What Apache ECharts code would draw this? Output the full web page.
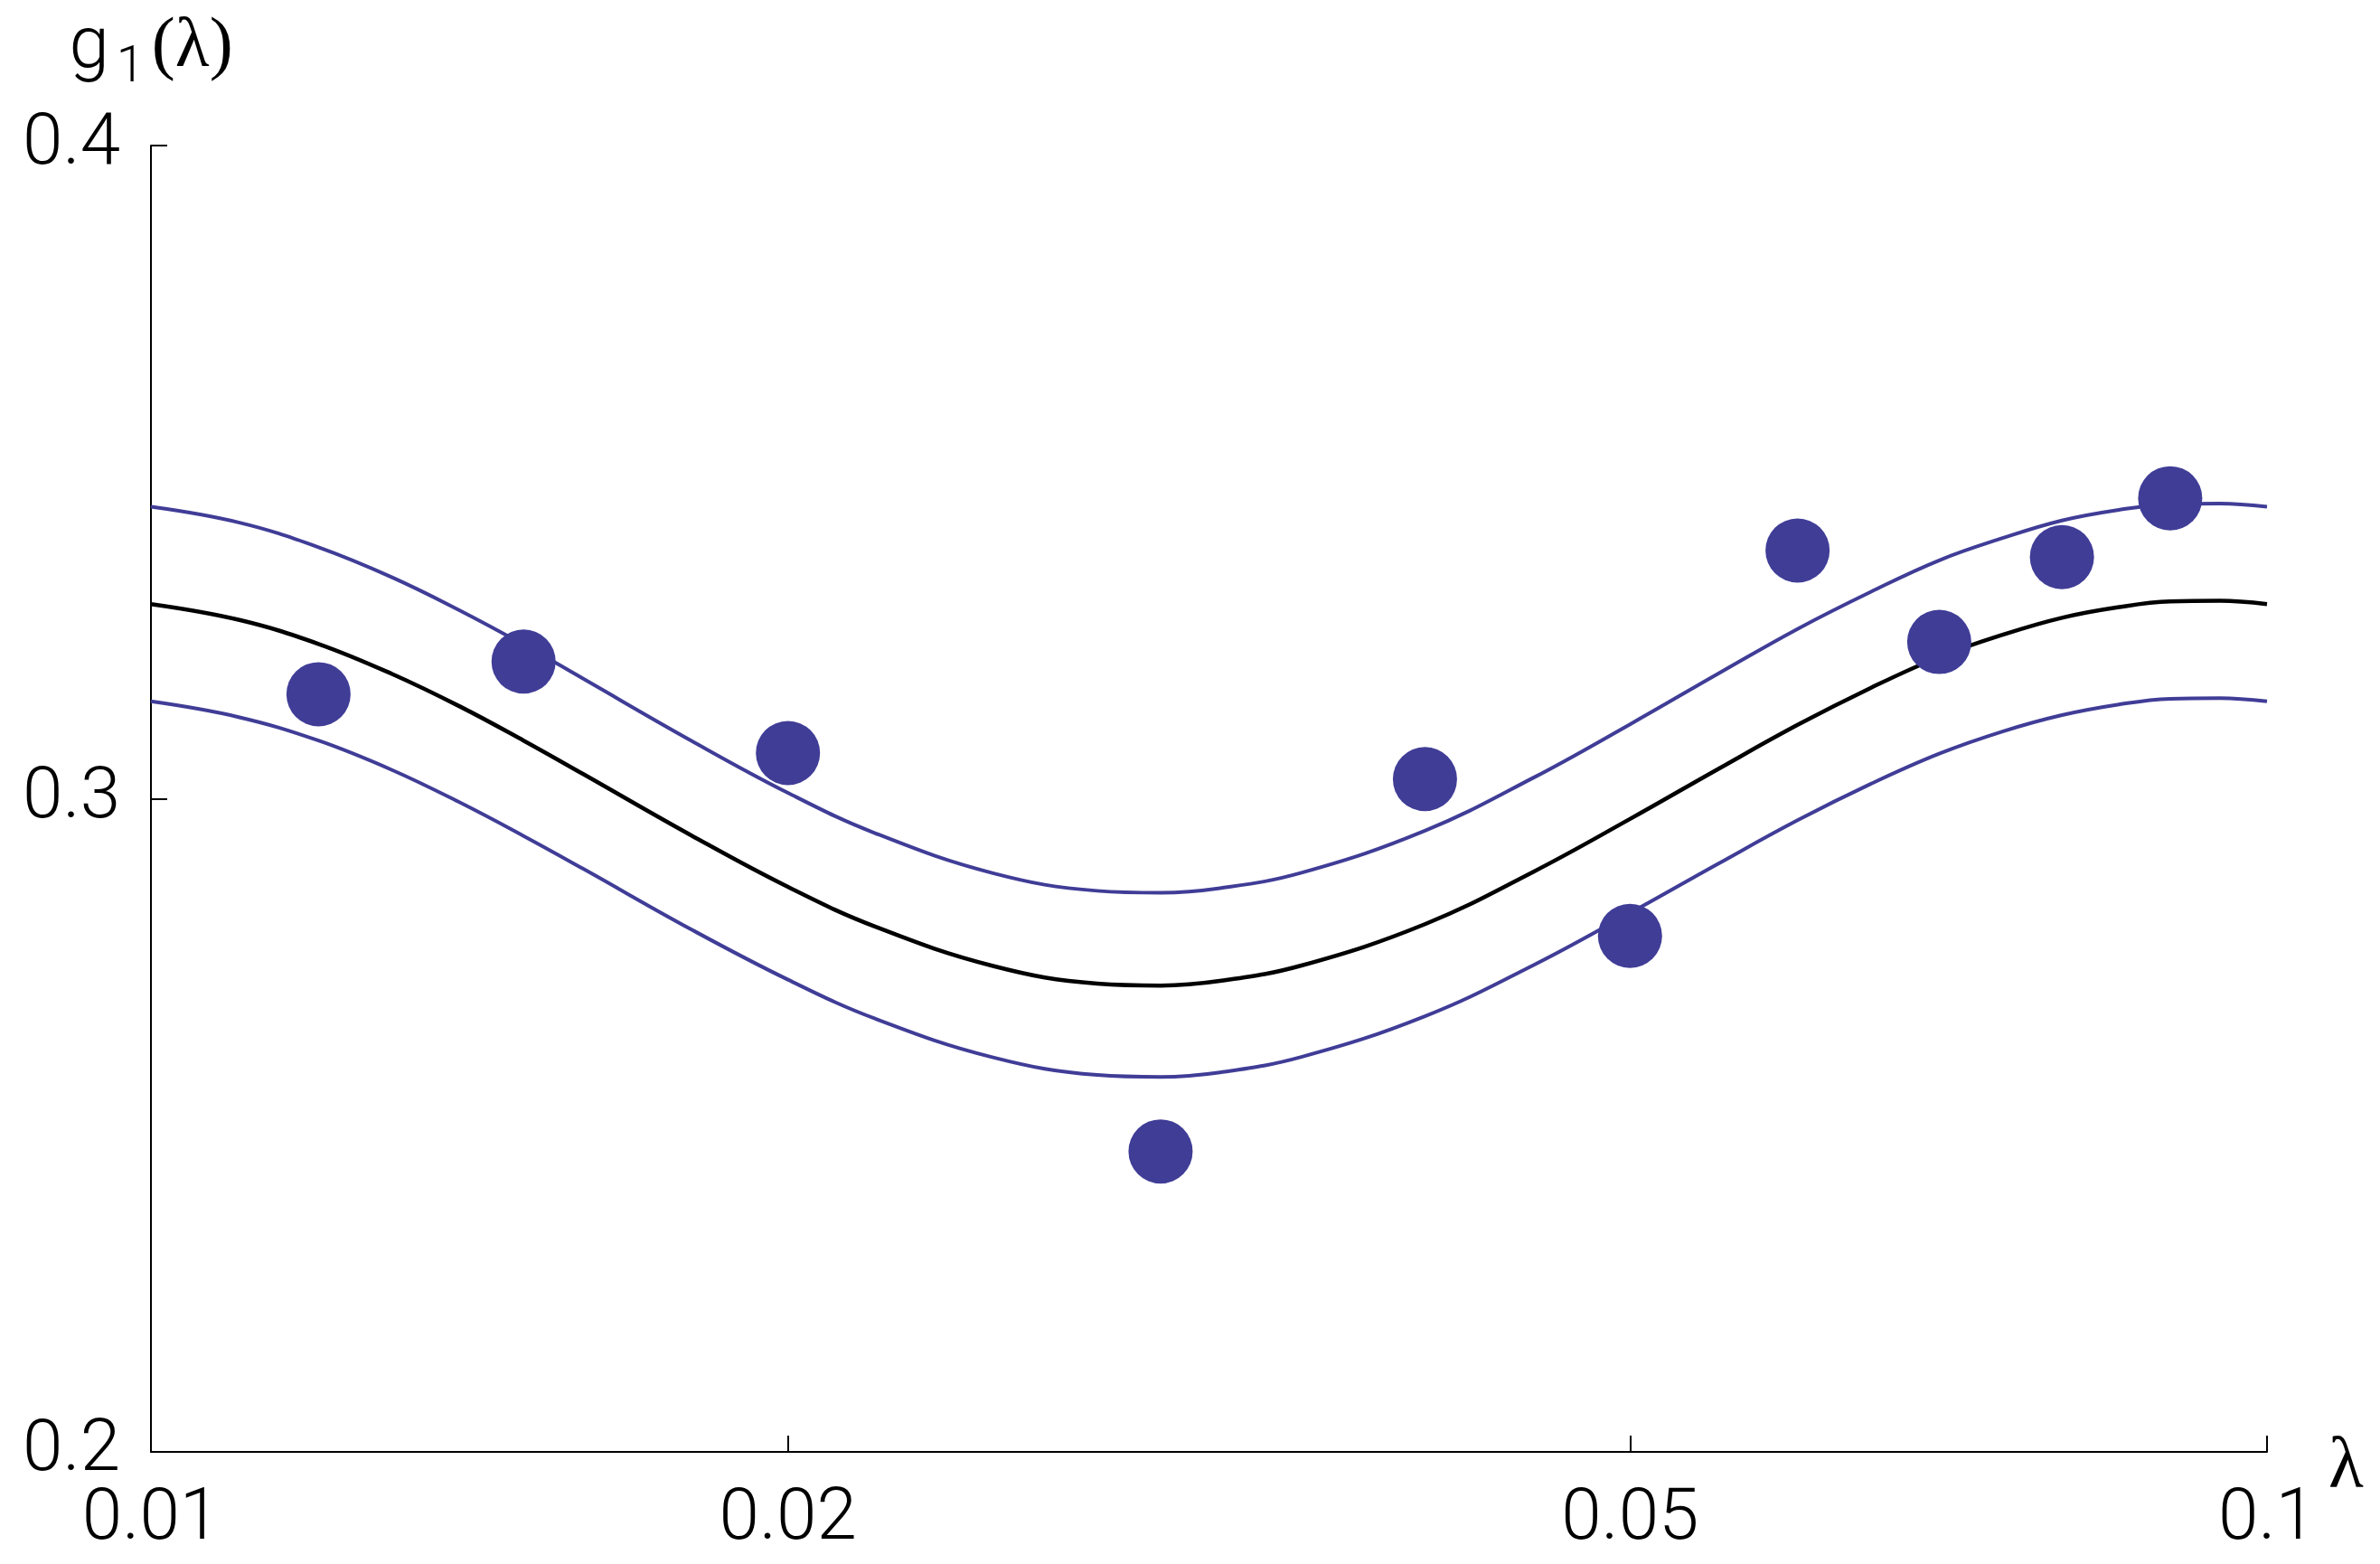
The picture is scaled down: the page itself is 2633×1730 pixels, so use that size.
<!DOCTYPE html>
<html>
<head>
<meta charset="utf-8">
<script src="https://cdn.jsdelivr.net/npm/echarts@6/dist/echarts.min.js"></script>
<style>
html,body{margin:0;padding:0;background:#fff;}
#chart{width:2633px;height:1730px;}
</style>
</head>
<body>
<div id="chart"></div>
<script>
// Data points (lambda, g1)
const pointLambda = [0.012, 0.015, 0.02, 0.03, 0.04, 0.05, 0.06, 0.07, 0.08, 0.09];
const pointG = [0.316, 0.321, 0.307, 0.246, 0.303, 0.279, 0.338, 0.324, 0.337, 0.346];

// Curves
const curveLambda = [0.01, 0.011, 0.012, 0.013, 0.014, 0.015, 0.016, 0.018, 0.02, 0.022, 0.025, 0.028, 0.03, 0.032, 0.035, 0.04, 0.045, 0.05, 0.055, 0.06, 0.065, 0.07, 0.075, 0.08, 0.085, 0.09, 0.095, 0.1];
const curveCenter = [0.3298, 0.3274, 0.3237, 0.3191, 0.3141, 0.3089, 0.3038, 0.2944, 0.2865, 0.2804, 0.2744, 0.2717, 0.2714, 0.2721, 0.2745, 0.2808, 0.2888, 0.2969, 0.3045, 0.3113, 0.3170, 0.3217, 0.3251, 0.3277, 0.3293, 0.3302, 0.3303, 0.3298];
const curveUpper = [0.3447, 0.3423, 0.3385, 0.3339, 0.3288, 0.3236, 0.3184, 0.3089, 0.3009, 0.2947, 0.2886, 0.2859, 0.2856, 0.2863, 0.2887, 0.2951, 0.3032, 0.3114, 0.3191, 0.3260, 0.3317, 0.3365, 0.3399, 0.3426, 0.3442, 0.3451, 0.3452, 0.3447];
const curveLower = [0.3149, 0.3125, 0.3089, 0.3044, 0.2994, 0.2943, 0.2893, 0.2800, 0.2723, 0.2663, 0.2604, 0.2577, 0.2574, 0.2581, 0.2605, 0.2667, 0.2745, 0.2825, 0.2900, 0.2967, 0.3023, 0.3069, 0.3103, 0.3128, 0.3144, 0.3153, 0.3154, 0.3149];

// Axis ticks
const xTicks = [0.01, 0.02, 0.05, 0.1];
const yTicks = [0.2, 0.3, 0.4];

const BLUE = '#403d97';
const labelFont = {fontFamily: 'Roboto', fontWeight: 300, fontSize: 80, color: '#000'};

const chart = echarts.init(document.getElementById('chart'), null, {renderer: 'canvas'});
const zip = (xs, ys) => xs.map((x, i) => [x, ys[i]]);

chart.setOption({
  backgroundColor: '#fff',
  animation: false,
  grid: {left: 167, top: 161, right: 125, bottom: 124, outerBoundsMode: 'none', containLabel: false},
  xAxis: {
    type: 'log', logBase: 10, min: 0.01, max: 0.1,
    splitLine: {show: false},
    axisLine: {show: true, lineStyle: {color: '#000', width: 2}},
    axisTick: {show: true, inside: true, length: 18, lineStyle: {color: '#000', width: 2}, customValues: xTicks},
    axisLabel: Object.assign({margin: 36, customValues: xTicks, formatter: v => String(+(+v).toPrecision(3))}, labelFont),
    minorTick: {show: false},
    name: 'λ', nameLocation: 'end', nameGap: 68,
    nameTextStyle: {fontFamily: 'Liberation Serif', fontSize: 80, color: '#000', verticalAlign: 'top', lineHeight: 36}
  },
  yAxis: {
    type: 'value', min: 0.2, max: 0.4, interval: 0.1,
    splitLine: {show: false},
    axisLine: {show: true, onZero: false, lineStyle: {color: '#000', width: 2}},
    axisTick: {show: true, inside: true, length: 18, lineStyle: {color: '#000', width: 2}},
    axisLabel: Object.assign({margin: 34, formatter: v => yTicks.includes(+(+v).toFixed(1)) ? (+v).toFixed(1) : ''}, labelFont),
    name: '{g|g}{s|1}{p|(λ)}', nameLocation: 'end', nameGap: 29,
    nameTextStyle: {
      align: 'center',
      rich: {
        g: {fontFamily: 'Roboto', fontWeight: 300, fontSize: 80, color: '#000', lineHeight: 76, verticalAlign: 'top'},
        s: {fontFamily: 'Roboto', fontWeight: 300, fontSize: 56, color: '#000', lineHeight: 118, verticalAlign: 'top', padding: [34, 8, 0, 8]},
        p: {fontFamily: 'Liberation Serif', fontSize: 78, color: '#000', lineHeight: 74, verticalAlign: 'top'}
      }
    }
  },
  series: [
    {type: 'line', data: zip(curveLambda, curveUpper), smooth: 0.4, showSymbol: false, lineStyle: {color: BLUE, width: 4}, z: 2},
    {type: 'line', data: zip(curveLambda, curveLower), smooth: 0.4, showSymbol: false, lineStyle: {color: BLUE, width: 4}, z: 2},
    {type: 'line', data: zip(curveLambda, curveCenter), smooth: 0.4, showSymbol: false, lineStyle: {color: '#000', width: 4.5}, z: 3},
    {type: 'scatter', data: zip(pointLambda, pointG), symbol: 'circle', symbolSize: 71, itemStyle: {color: BLUE, opacity: 1}, z: 5}
  ]
});
</script>
</body>
</html>
